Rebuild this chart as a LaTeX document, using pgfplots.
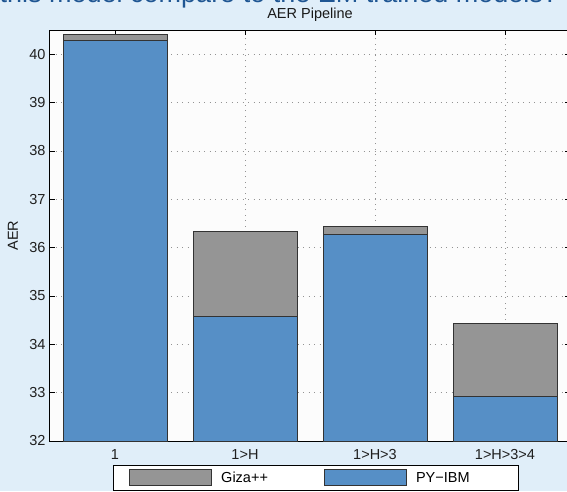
\documentclass[border=0pt]{standalone}
\usepackage{pgfplots}
\pgfplotsset{compat=1.18}
\usepackage{fontspec}
\setmainfont{Liberation Sans}
\definecolor{bgblue}{HTML}{E0EEF9}
\definecolor{axisbg}{HTML}{FCFCFC}
\definecolor{pyblue}{HTML}{568FC6}
\definecolor{gizagray}{HTML}{959595}
\definecolor{headblue}{HTML}{1F5693}
\begin{document}
\begin{tikzpicture}[x=1pt,y=1pt]
\useasboundingbox (0,0) rectangle (567,491);
\clip (0,0) rectangle (567,491);
\fill[bgblue] (0,0) rectangle (567,491);
\node[anchor=base east, text=headblue, font=\fontsize{27}{30}\selectfont, inner sep=0pt, outer sep=0pt] at (558,488) {How does this model compare to the EM trained models?};
\begin{axis}[
  at={(50pt,50pt)}, anchor=south west,
  scale only axis, width=520pt, height=411pt,
  xmin=0.5, xmax=4.5, ymin=32, ymax=40.5,
  xtick={1,2,3,4}, xticklabels={1, 1>H, 1>H>3, 1>H>3>4},
  ytick={32,33,34,35,36,37,38,39,40},
  /pgf/number format/assume math mode=true,
  axis background/.style={fill=axisbg},
  grid=major,
  major grid style={gray!85, dash pattern=on 1pt off 4.5pt, line width=0.7pt},
  tick align=inside, major tick length=5pt,
  every tick/.style={black, line width=0.7pt},
  axis line style={black, line width=1pt},
  tick label style={text=black!88, font=\fontsize{14.5}{17}\selectfont},
  xticklabel style={anchor=base, yshift=-18pt},
  yticklabel style={xshift=-1pt},
  title={AER Pipeline},
  title style={at={(axis description cs:0.5,1)}, anchor=base, yshift=6pt, font=\fontsize{14.5}{17}\selectfont, text=black!90},
  ylabel={AER},
  ylabel style={at={(axis description cs:-0.0712,0.5)}, anchor=center, font=\fontsize{14.5}{17}\selectfont, text=black!90},
  legend columns=2,
  legend style={at={(axis description cs:0.1212,-0.0584)}, anchor=north west, draw=black, line width=0.8pt, fill=white, font=\fontsize{14.5}{17}\selectfont, inner xsep=16pt, inner ysep=4pt},
  legend image code/.code={\draw[#1, line width=0.8pt] (0pt,-8pt) rectangle (82pt,8pt);},
]
\addplot[ybar, bar width=0.8, bar shift=0pt, fill=gizagray, draw=black!80, line width=1pt] coordinates {(1,40.41) (2,36.33) (3,36.43) (4,34.42)};
\addlegendentry{\hspace*{7pt}\makebox[101pt][l]{Giza++}}
\addplot[ybar, bar width=0.8, bar shift=0pt, fill=pyblue, draw=black!80, line width=1pt] coordinates {(1,40.28) (2,34.57) (3,36.27) (4,32.93)};
\addlegendentry{\hspace*{7pt}\makebox[84pt][l]{PY−IBM}}
\end{axis}
\end{tikzpicture}
\end{document}
